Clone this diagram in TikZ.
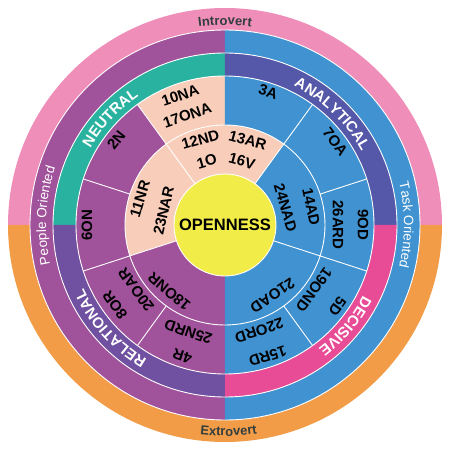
\documentclass[tikz,border=0pt]{standalone}
\usepackage{fontspec}
\setmainfont{Liberation Sans}
\usepackage{tikz}
\usetikzlibrary{decorations.text}

\definecolor{wheelPink}{RGB}{240,142,186}
\definecolor{wheelOrange}{RGB}{242,156,72}
\definecolor{wheelPurple}{RGB}{160,82,155}
\definecolor{wheelBlue}{RGB}{64,146,208}
\definecolor{wheelTeal}{RGB}{42,178,160}
\definecolor{wheelIndigo}{RGB}{85,88,168}
\definecolor{wheelMagenta}{RGB}{232,76,150}
\definecolor{wheelViolet}{RGB}{112,80,160}
\definecolor{wheelPeach}{RGB}{248,205,185}
\definecolor{wheelYellow}{RGB}{242,236,72}
\definecolor{wheelGrey}{RGB}{50,62,62}

\newcommand{\BandFont}{\fontsize{15}{15}\selectfont\bfseries}
\newcommand{\PoleFont}{\fontsize{13}{13}\selectfont\bfseries}
\newcommand{\SideFont}{\fontsize{13.5}{13.5}\selectfont}

\newcommand{\WheelSector}[5]{
    \fill[fill=#1] (#2:#4) arc[start angle=#2, end angle=#3, radius=#4]
        -- (#3:#5) arc[start angle=#3, end angle=#2, radius=#5] -- cycle;
}
\newcommand{\WheelArcText}[6]{
    \path[decorate, decoration={text along path, text align=center,
        text color=#2, text={|#1|#6}}]
        (#4:#3) arc[start angle=#4, end angle=#5, radius=#3];
}

\begin{document}
\begin{tikzpicture}[x=1pt, y=1pt,
    seglabel/.style={font=\fontsize{15}{15}\selectfont\bfseries, inner sep=0pt},
    splitline/.style={white, line width=0.9pt}]
    \useasboundingbox (-225,-225) rectangle (225,225);

    % ---- outer rings
    \WheelSector{wheelPink}{0}{180}{195}{217}
    \WheelSector{wheelOrange}{180}{360}{195}{217}
    \WheelSector{wheelPurple}{90}{270}{172}{195}
    \WheelSector{wheelBlue}{-90}{90}{172}{195}
    % ---- style band
    \WheelSector{wheelTeal}{90}{180}{149}{172}
    \WheelSector{wheelIndigo}{0}{90}{149}{172}
    \WheelSector{wheelMagenta}{-90}{0}{149}{172}
    \WheelSector{wheelViolet}{180}{270}{149}{172}
    % ---- type segments
    \foreach \col/\a/\b/\ra/\rb in {wheelPeach/90/126/100/149, wheelPurple/126/270/100/149,
        wheelBlue/-90/90/100/149, wheelPeach/54/198/51/100,
        wheelPurple/198/270/51/100, wheelBlue/-90/54/51/100}{
        \WheelSector{\col}{\a}{\b}{\ra}{\rb}
    }

    \foreach \r in {100,149,172,195}
        \draw[splitline] (0,0) circle[radius=\r];
    \foreach \a in {126,198,54,-18}
        \draw[splitline] (\a:51) -- (\a:149);
    \foreach \a in {162,234,18,-54}
        \draw[splitline] (\a:100) -- (\a:149);

    \node[circle, fill=wheelYellow, draw=white, line width=0.9pt, minimum size=102pt,
        inner sep=0pt, font=\fontsize{16.5}{16.5}\selectfont\bfseries] (openness) at (0,0) {OPENNESS};

    \foreach \ang/\rad/\num/\txt in {106/66/1/1O, 142/138/2/2N, 72/140/3/3A, 252/138/4/4R,
        -36/139/5/5D, 180/138/6/6ON, 37/138/7/7OA, 216/136/8/8OR, 0/138/9/9OD,
        109/137/10/10NA, 163/89/11/11NR, 106/89/12/12ND, 75/88/13/13AR, 12/88/14/14AD,
        -72/138/15/15RD, 75/66/16/16V, 109/116/17/17ONA, 230/87/18/18ONR,
        -36/110/19/19OND, 216/110/20/20OAR, -56/85/21/21OAD, -72/111/22/22ORD,
        167/63/23/23NAR, 16/63/24/24NAD, 251/113/25/25NRD, 0/113/26/26ARD}
        \node[seglabel, rotate=\ang-90] (type\num) at (\ang:\rad) {\txt};

    \WheelArcText{\BandFont}{white}{155}{182}{92}{NEUTRAL}
    \WheelArcText{\BandFont}{white}{155}{91}{1}{ANALYTICAL}
    \WheelArcText{\BandFont}{white}{155}{5}{-85}{DECISIVE}
    \WheelArcText{\BandFont}{white}{155}{267}{177}{RELATIONAL}
    \WheelArcText{\PoleFont}{wheelGrey}{200}{135}{45}{Introvert}
    \WheelArcText{\PoleFont}{wheelGrey}{211}{-134}{-44}{Extrovert}
    \WheelArcText{\SideFont}{white}{179}{222}{132}{People Oriented}
    \WheelArcText{\SideFont}{white}{179}{45}{-45}{Task Oriented}
    %\draw[red] (0,0) circle[radius=217];
\end{tikzpicture}
\end{document}
